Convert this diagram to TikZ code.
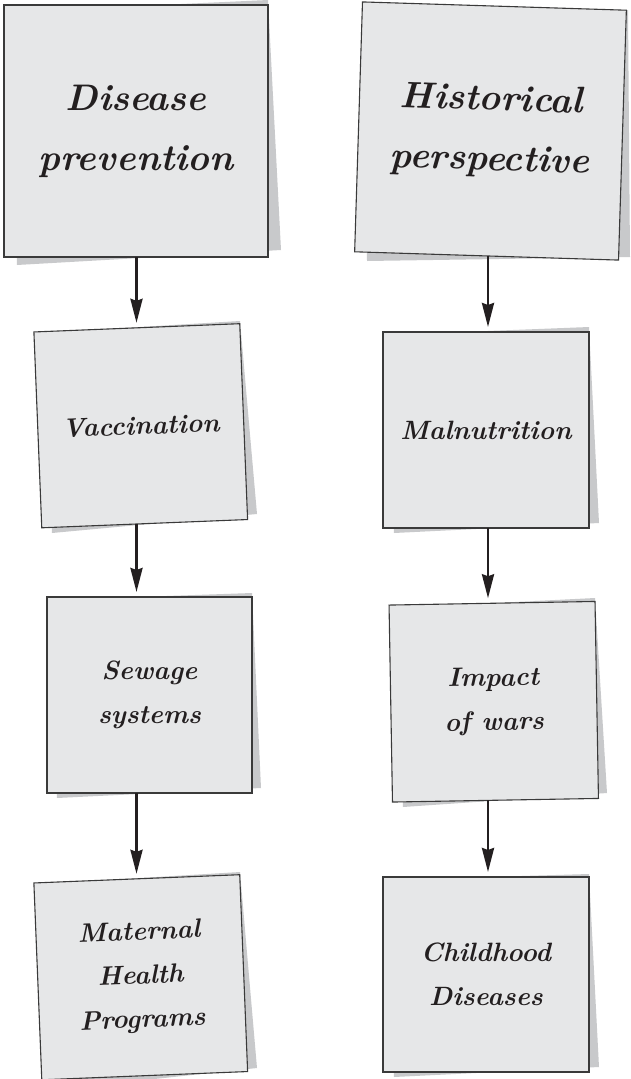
\documentclass[tikz,border=0pt]{standalone}
\usetikzlibrary{arrows.meta}
\definecolor{notefill}{HTML}{E6E7E8}
\definecolor{noteedge}{HTML}{3A3A3A}
\definecolor{noteshadow}{HTML}{C8C9CB}
\definecolor{ink}{HTML}{231F20}
\begin{document}
\begin{tikzpicture}[x=1pt,y=-1pt,
  note/.style={draw=noteedge,fill=notefill,line width=1.1pt,inner sep=0pt,outer sep=0pt,
    align=center,text=ink},
  headnote/.style={note,font=\bfseries\itshape\fontsize{37}{60}\selectfont},
  subnote/.style={note,font=\bfseries\itshape\fontsize{26.5}{44}\selectfont},
  shadowpoly/.style={fill=noteshadow,draw=none},
  flow/.style={draw=ink,line width=2.8pt,-{Stealth[length=24pt,width=12pt,inset=2pt]},shorten >=5pt}]

\useasboundingbox (0,0) rectangle (630,1079);

% drop shadows behind the notes
\fill[shadowpoly] (8,12) -- (268,0) -- (281,250) -- (17,265) -- cycle;
\fill[shadowpoly] (366,12) -- (628,10) -- (630,257) -- (367,261) -- cycle;
\fill[shadowpoly] (40,333) -- (240,321) -- (257,514) -- (52,533) -- cycle;
\fill[shadowpoly] (52,600) -- (252,593) -- (261,788) -- (57,798) -- cycle;
\fill[shadowpoly] (40,884) -- (240,872) -- (257,1068) -- (52,1090) -- cycle;
\fill[shadowpoly] (386,335) -- (589,327) -- (599,523) -- (394,533) -- cycle;
\fill[shadowpoly] (395,608) -- (595,598) -- (607,793) -- (403,807) -- cycle;
\fill[shadowpoly] (386,880) -- (589,874) -- (599,1067) -- (394,1077) -- cycle;

% left column
\node[headnote,minimum width=264pt,minimum height=252pt] (prev) at (136,131)
  {Disease\\prevention};
\node[subnote,minimum width=206pt,minimum height=196pt,rotate=2.3] (vacc) at (140.75,425.75)
  {Vaccination};
\node[subnote,minimum width=205pt,minimum height=196pt] (sew) at (149.5,695)
  {Sewage\\systems};
\node[subnote,minimum width=206pt,minimum height=197pt,rotate=2.3] (mat) at (140.75,977.25)
  {Maternal\\Health\\Programs};

% right column
\node[headnote,minimum width=264pt,minimum height=250pt,rotate=-1.8] (hist) at (490.5,131)
  {Historical\\perspective};
\node[subnote,minimum width=206pt,minimum height=196pt] (mal) at (486,430)
  {Malnutrition};
\node[subnote,minimum width=206pt,minimum height=197pt,rotate=1] (wars) at (493.75,701.75)
  {Impact\\of wars};
\node[subnote,minimum width=206pt,minimum height=195pt] (child) at (486,974.5)
  {Childhood\\Diseases};

% arrow columns
\coordinate (colL) at (136.5,0);
\coordinate (colR) at (488,0);

\draw[flow] (prev.south -| colL) -- (vacc.north -| colL);
\draw[flow] (vacc.south -| colL) -- (sew.north -| colL);
\draw[flow] (sew.south -| colL) -- (mat.north -| colL);

\draw[flow] (hist.south -| colR) -- (mal.north -| colR);
\draw[flow] (mal.south -| colR) -- (wars.north -| colR);
\draw[flow] (wars.south -| colR) -- (child.north -| colR);
\end{tikzpicture}
\end{document}
